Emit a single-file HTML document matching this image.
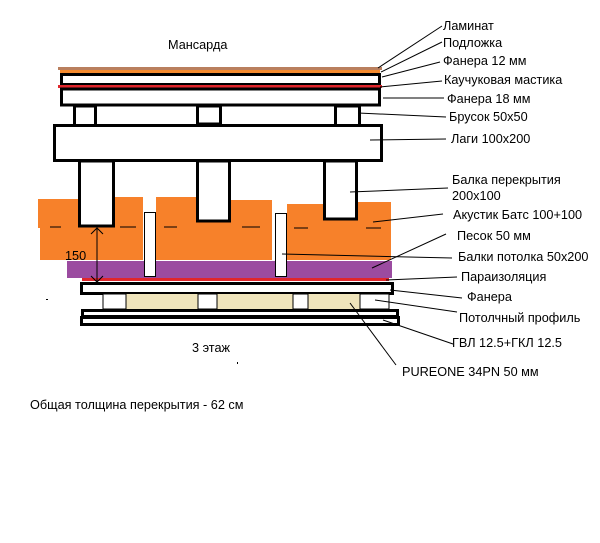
<!DOCTYPE html>
<html><head><meta charset="utf-8"><style>
html,body{margin:0;padding:0;background:#fff;width:600px;height:543px;overflow:hidden}
svg{display:block}
text{font-family:"Liberation Sans",Arial,sans-serif;font-size:12.7px;fill:#000}
</style></head><body>
<svg width="600" height="543" viewBox="0 0 600 543" xmlns="http://www.w3.org/2000/svg">
<rect width="600" height="543" fill="#fff"/>
<rect x="58" y="67" width="324" height="3" fill="#b97f5e"/>
<rect x="60" y="70" width="320" height="3" fill="#f58a2e"/>
<rect x="61.5" y="74.5" width="318" height="10" fill="#fff" stroke="#000" stroke-width="3"/>
<rect x="58" y="85" width="324" height="3" fill="#e0262b"/>
<rect x="61.5" y="89" width="318" height="16" fill="#fff" stroke="#000" stroke-width="3"/>
<rect x="74.5" y="106" width="21" height="20" fill="#fff" stroke="#000" stroke-width="3"/>
<rect x="197.5" y="106" width="23" height="18" fill="#fff" stroke="#000" stroke-width="3"/>
<rect x="335.5" y="106" width="24" height="21" fill="#fff" stroke="#000" stroke-width="3"/>
<rect x="54.5" y="125.5" width="327" height="35" fill="#fff" stroke="#000" stroke-width="3"/>
<path d="M38 199 H78 V227 H114 V197 H143 V260 H40 V228 H38 Z" fill="#f7812a"/>
<path d="M156 197 H196 V222 H230 V200 H272 V260 H156 Z" fill="#f7812a"/>
<path d="M287 204 H323 V220 H357 V202 H391 V260 H287 Z" fill="#f7812a"/>
<rect x="67" y="261" width="325" height="17" fill="#9b4ba0"/>
<rect x="82" y="278" width="307" height="3" fill="#e0262b"/>
<rect x="79.5" y="161" width="34" height="65" fill="#fff" stroke="#000" stroke-width="3"/>
<rect x="197.5" y="161" width="32" height="60" fill="#fff" stroke="#000" stroke-width="3"/>
<rect x="324.5" y="161" width="32" height="58" fill="#fff" stroke="#000" stroke-width="3"/>
<g stroke="#000" stroke-width="1">
<line x1="50" y1="227" x2="61" y2="227"/><line x1="120" y1="227" x2="136" y2="227"/>
<line x1="164" y1="227" x2="177" y2="227"/><line x1="242" y1="227" x2="260" y2="227"/>
<line x1="294" y1="228" x2="308" y2="228"/><line x1="366" y1="228" x2="381" y2="228"/>
</g>
<rect x="144.5" y="212.5" width="11" height="64" fill="#fff" stroke="#000" stroke-width="1"/>
<rect x="275.5" y="213.5" width="11" height="63" fill="#fff" stroke="#000" stroke-width="1"/>
<g stroke="#000" stroke-width="1" fill="none">
<line x1="97" y1="228" x2="97" y2="282"/>
<polyline points="91,234 97,228 103,234"/><polyline points="91,276 97,282 103,276"/>
</g>
<text x="65" y="260">150</text>
<rect x="81.5" y="283.5" width="311" height="10" fill="#fff" stroke="#000" stroke-width="3"/>
<rect x="103" y="294" width="286" height="15" fill="#fff" stroke="#000" stroke-width="1"/>
<rect x="126" y="294" width="72" height="15" fill="#efe4bb"/>
<rect x="217" y="294" width="76" height="15" fill="#efe4bb"/>
<rect x="308" y="294" width="52" height="15" fill="#efe4bb"/>
<g stroke="#000" stroke-width="1"><line x1="126" y1="294" x2="126" y2="309"/><line x1="198" y1="294" x2="198" y2="309"/><line x1="217" y1="294" x2="217" y2="309"/><line x1="293" y1="294" x2="293" y2="309"/><line x1="308" y1="294" x2="308" y2="309"/><line x1="360" y1="294" x2="360" y2="309"/></g>
<rect x="82.5" y="310.5" width="315" height="6" fill="#fff" stroke="#000" stroke-width="3"/>
<rect x="81.5" y="317.5" width="317" height="7" fill="#fff" stroke="#000" stroke-width="3"/>
<g stroke="#000" stroke-width="1">
<line x1="442" y1="26" x2="378" y2="68"/>
<line x1="442" y1="42" x2="381" y2="72"/>
<line x1="440" y1="62" x2="382" y2="77"/>
<line x1="442" y1="81" x2="380" y2="87"/>
<line x1="444" y1="98" x2="383" y2="98"/>
<line x1="446" y1="117" x2="358" y2="113"/>
<line x1="446" y1="139" x2="370" y2="140"/>
<line x1="448" y1="188" x2="350" y2="192"/>
<line x1="443" y1="214" x2="373" y2="222"/>
<line x1="446" y1="234" x2="372" y2="268"/>
<line x1="452" y1="258" x2="282" y2="254"/>
<line x1="457" y1="277" x2="386" y2="280"/>
<line x1="462" y1="298" x2="390" y2="290"/>
<line x1="457" y1="312" x2="375" y2="300"/>
<line x1="453" y1="344" x2="383" y2="320"/>
<line x1="396" y1="365" x2="350" y2="303"/>
</g>
<text x="443" y="30">Ламинат</text>
<text x="443" y="47">Подложка</text>
<text x="443" y="65">Фанера 12 мм</text>
<text x="444" y="84">Каучуковая мастика</text>
<text x="447" y="103">Фанера 18 мм</text>
<text x="449" y="121">Брусок 50х50</text>
<text x="451" y="143">Лаги 100х200</text>
<text x="452" y="184">Балка перекрытия</text>
<text x="452" y="200">200х100</text>
<text x="453" y="219">Акустик Батс 100+100</text>
<text x="457" y="240">Песок 50 мм</text>
<text x="458" y="261">Балки потолка 50х200</text>
<text x="461" y="281">Параизоляция</text>
<text x="467" y="301">Фанера</text>
<text x="459" y="322">Потолчный профиль</text>
<text x="452" y="347">ГВЛ 12.5+ГКЛ 12.5</text>
<text x="402" y="376">PUREONE 34PN 50 мм</text>
<text x="168" y="49">Мансарда</text>
<text x="192" y="352">3 этаж</text>
<text x="30" y="409">Общая толщина перекрытия - 62 см</text>
<rect x="46" y="299" width="2" height="1" fill="#000"/>
<rect x="237" y="362" width="1" height="2" fill="#000"/>
</svg>
</body></html>
